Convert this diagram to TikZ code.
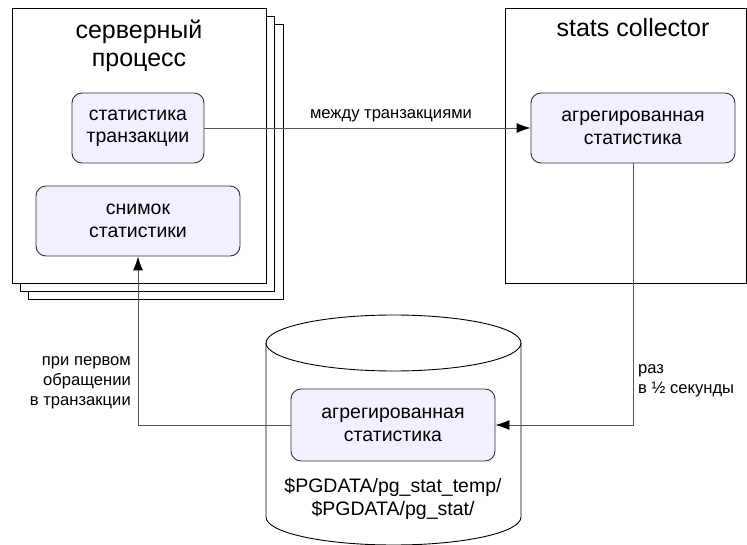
\documentclass[tikz,border=0pt]{standalone}
\usepackage{fontspec}
\setmainfont{Liberation Sans}
\usetikzlibrary{arrows.meta}
\definecolor{boxfill}{HTML}{F0F0FF}
\definecolor{boxline}{HTML}{333333}
\definecolor{connline}{HTML}{555555}
\tikzset{
  procbox/.style={draw=black, fill=white, line width=0.9pt, minimum width=254pt, minimum height=275pt, inner sep=0pt},
  statbox/.style={draw=boxline, fill=boxfill, rounded corners=10pt, line width=0.9pt, inner sep=0pt, align=center,
    font=\fontsize{19.5}{22.4}\selectfont},
  titletext/.style={inner sep=0pt, align=center, font=\fontsize{25}{28.5}\selectfont},
  lbl/.style={inner sep=0pt, font=\fontsize{16.6}{20}\selectfont},
  conn/.style={draw=connline, line width=0.9pt},
  tip/.style={-{Latex[length=14pt,width=10pt,black]}},
}
\begin{document}
\begin{tikzpicture}[x=1pt,y=1pt]
\useasboundingbox (0,0) rectangle (747,-545);
% server process stack
\node[procbox, minimum width=255pt] (sp3) at (155.5,-161.5) {};
\node[procbox] (sp2) at (147,-153.5) {};
\node[procbox] (sp1) at (139,-145.5) {};
\node[titletext] (sptitle) at (139,-46) {серверный\\процесс};
% stats collector
\node[procbox, minimum width=241pt] (sc) at (625.5,-145.5) {};
\node[titletext] (sctitle) at (633,-28) {stats collector};
% cylinder
\draw[line width=0.9pt, fill=white] (266,-343) -- (266,-517) arc[start angle=180, end angle=360, x radius=127.5, y radius=28] -- (521,-343);
\draw[line width=0.9pt] (393.5,-343) ellipse[x radius=127.5, y radius=28];
% inner boxes
\node[statbox, minimum width=132pt, minimum height=70pt] (tx) at (138,-128) {статистика\\транзакции};
\node[statbox, minimum width=204pt, minimum height=70pt] (snap) at (138,-221) {снимок\\статистики};
\node[statbox, minimum width=204pt, minimum height=70pt] (agg) at (633,-128) {агрегированная\\статистика};
\node[statbox, minimum width=204pt, minimum height=72pt] (file) at (393,-425) {агрегированная\\статистика};
\node[inner sep=0pt, align=center, font=\fontsize{19.5}{22.4}\selectfont] (path) at (393,-499) {\$PGDATA/pg\_stat\_temp/\\\$PGDATA/pg\_stat/};
% connectors
\draw[conn, tip] (tx) -- node[lbl, pos=0.572, above=6pt] (lb1) {между транзакциями} (agg);
\draw[conn, tip] (agg.south) |- (file.east);
\node[lbl, anchor=west, align=left] (lb2) at (638,-381) {раз\\в ½ секунды};
\draw[conn, tip] (file.west) -| (snap.south);
\node[lbl, anchor=east, align=right] (lb3) at (131,-383) {при первом\\обращении\\в транзакции};
\end{tikzpicture}
\end{document}
